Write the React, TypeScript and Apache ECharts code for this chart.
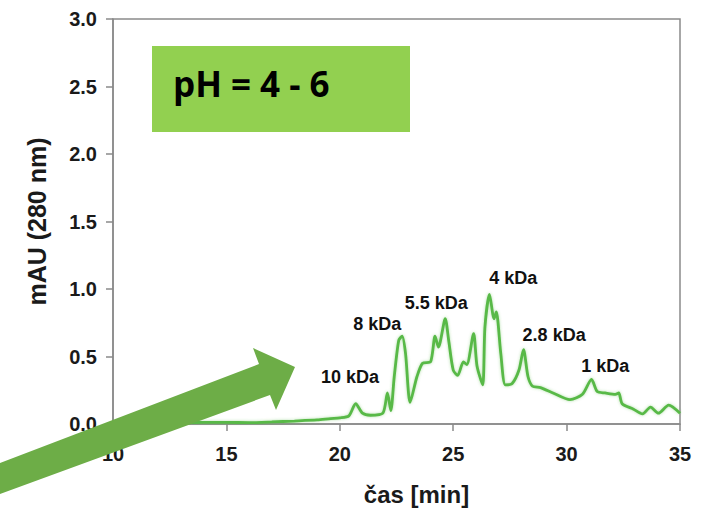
import React, { useEffect, useRef } from "react";
import * as echarts from "echarts";

const times = [
  10, 12, 13, 14, 15, 16, 17, 18, 19, 19.6, 20.0, 20.4, 20.7, 21.0, 21.35, 21.9, 22.1, 22.25, 22.4, 22.6,
  22.75, 22.9, 23.1, 23.4, 23.65, 24.0, 24.2, 24.35, 24.65, 24.8, 25.0, 25.2, 25.45, 25.6, 25.9,
  26.05, 26.3, 26.4, 26.6, 26.8, 26.9, 27.1, 27.3, 27.6, 27.9, 28.1, 28.3, 28.5, 28.85, 29.4,
  30.15, 30.7, 31.1, 31.35, 31.7, 32.15, 32.3, 32.45, 32.95, 33.35, 33.7, 34.05, 34.5, 35.0,
];
const values = [
  0.01, 0.012, 0.01, 0.012, 0.012, 0.01, 0.015, 0.022, 0.03, 0.04, 0.045, 0.06, 0.15, 0.08, 0.065, 0.08, 0.23, 0.1, 0.35, 0.62,
  0.65, 0.52, 0.16, 0.35, 0.45, 0.46, 0.65, 0.57, 0.78, 0.62, 0.4, 0.36, 0.46, 0.44, 0.67,
  0.43, 0.29, 0.72, 0.96, 0.78, 0.83, 0.52, 0.29, 0.3, 0.4, 0.55, 0.35, 0.28, 0.27, 0.23,
  0.18, 0.22, 0.33, 0.24, 0.23, 0.22, 0.23, 0.15, 0.11, 0.075, 0.125, 0.08, 0.14, 0.08,
];

const peakNames = ["10 kDa", "8 kDa", "5.5 kDa", "4 kDa", "2.8 kDa", "1 kDa"];
const peakTimes = [20.45, 21.65, 24.25, 27.65, 29.45, 31.7];
const peakValues = [0.345, 0.74, 0.9, 1.08, 0.66, 0.43];

const xTicks = [10, 15, 20, 25, 30, 35];
const yTicks = [0, 0.5, 1.0, 1.5, 2.0, 2.5, 3.0];

const boxText = "pH = 4 - 6";
const xTitle = "čas [min]";
const yTitle = "mAU (280 nm)";

export default function App() {
  const ref = useRef<HTMLDivElement>(null);
  useEffect(() => {
    if (!ref.current) return;
    const chart = echarts.init(ref.current, null, { renderer: "svg" });
    const font = "'Liberation Sans', Arial, sans-serif";
    const axisColor = "#8a8a8a";
    chart.setOption({
      animation: false,
      backgroundColor: "#ffffff",
      grid: {
        left: 113,
        right: 32,
        top: 19,
        bottom: 83,
        show: true,
        borderColor: axisColor,
        borderWidth: 1.5,
      },
      xAxis: {
        type: "value",
        min: xTicks[0],
        max: xTicks[xTicks.length - 1],
        interval: 5,
        name: xTitle,
        nameLocation: "middle",
        nameGap: 58,
        nameTextStyle: {
          fontFamily: font,
          fontWeight: "bold",
          fontSize: 24,
          color: "#1a1a1a",
          padding: [0, 0, 0, 40],
        },
        axisLine: { show: true, lineStyle: { color: axisColor, width: 1.5 } },
        axisTick: { show: true, inside: false, length: 7, lineStyle: { color: axisColor, width: 1.5 } },
        axisLabel: {
          fontFamily: font,
          fontWeight: "bold",
          fontSize: 20,
          color: "#1a1a1a",
          margin: 20,
        },
        splitLine: { show: false },
      },
      yAxis: {
        type: "value",
        min: yTicks[0],
        max: yTicks[yTicks.length - 1],
        interval: 0.5,
        name: yTitle,
        nameLocation: "middle",
        nameGap: 64,
        nameTextStyle: {
          fontFamily: font,
          fontWeight: "bold",
          fontSize: 25,
          color: "#1a1a1a",
        },
        axisLine: { show: true, lineStyle: { color: axisColor, width: 1.5 } },
        axisTick: { show: true, inside: false, length: 7, lineStyle: { color: axisColor, width: 1.5 } },
        axisLabel: {
          fontFamily: font,
          fontWeight: "bold",
          fontSize: 20,
          color: "#1a1a1a",
          margin: 16,
          formatter: (v: number) => v.toFixed(1),
        },
        splitLine: { show: false },
      },
      series: [
        {
          type: "line",
          data: times.map((t, i) => [t, values[i]]),
          showSymbol: false,
          smooth: 0.25,
          lineStyle: {
            color: "#58b947",
            width: 2.8,
            shadowColor: "rgba(88,185,71,0.45)",
            shadowBlur: 3,
          },
          z: 2,
        },
        {
          type: "scatter",
          data: peakTimes.map((t, i) => ({ value: [t, peakValues[i]], name: peakNames[i] })),
          symbolSize: 0,
          silent: true,
          itemStyle: { opacity: 1 },
          label: {
            show: true,
            position: "inside",
            formatter: (p: any) => p.name,
            fontFamily: font,
            fontWeight: "bold",
            fontSize: 18,
            color: "#111111",
            opacity: 1,
            textBorderWidth: 0,
          },
          z: 3,
        },
      ],
      graphic: [
        {
          type: "rect",
          shape: { x: 152, y: 46, width: 258, height: 86 },
          style: { fill: "#92d050" },
          z: 10,
        },
        {
          type: "text",
          x: 173,
          y: 83,
          style: {
            text: boxText,
            font: "bold 35px 'Open Sans', Lato, sans-serif",
            fill: "#000000",
            verticalAlign: "middle",
          },
          z: 11,
        },
        {
          type: "polygon",
          shape: {
            points: [
              [0, 463],
              [259, 364],
              [253, 348],
              [295, 367],
              [276, 410],
              [270, 395],
              [0, 494],
            ],
          },
          style: { fill: "#6dad47" },
          z: 12,
        },
      ],
    });
    return () => chart.dispose();
  }, []);
  return <div ref={ref} style={{ width: 712, height: 511, position: "absolute", left: 0, top: 0 }} />;
}
